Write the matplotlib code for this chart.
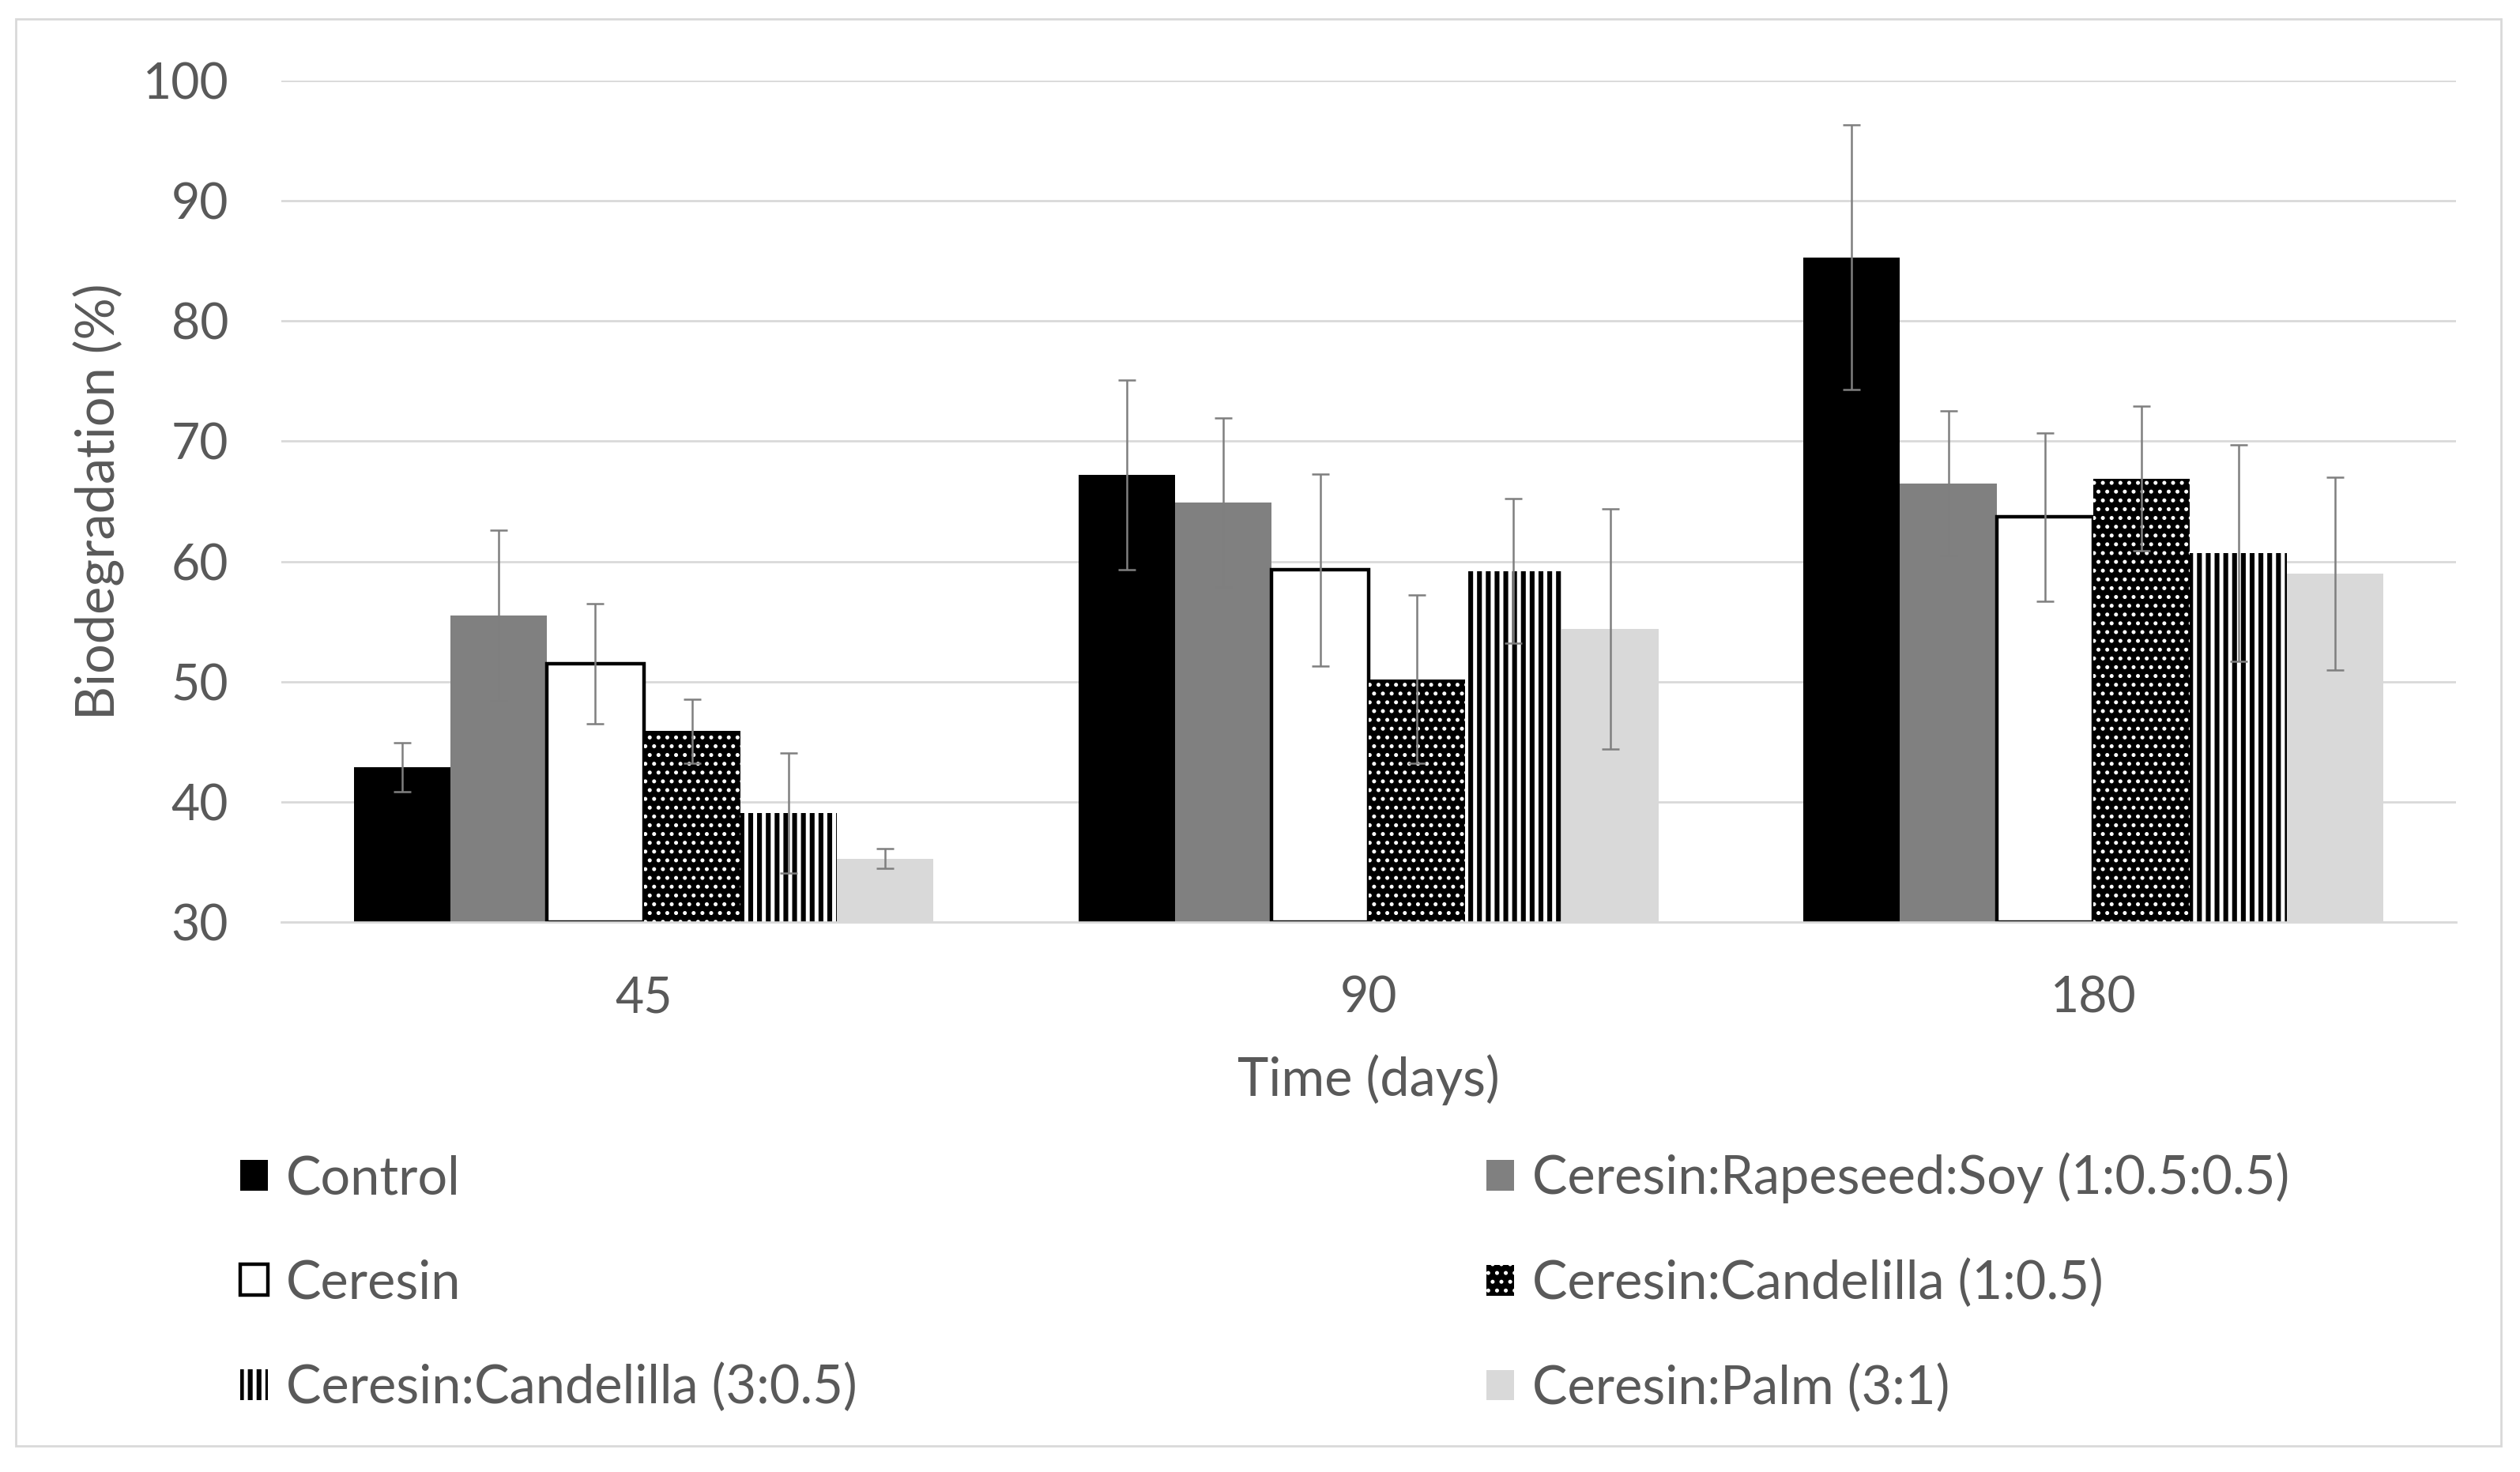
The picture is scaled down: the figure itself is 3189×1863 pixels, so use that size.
import numpy as np
import matplotlib
matplotlib.use("Agg")
import matplotlib.pyplot as plt
from matplotlib.patches import Patch, Rectangle

plt.rcParams['font.family'] = ['Lato', 'DejaVu Sans']

days = ["45", "90", "180"]
series = ["Control", "Ceresin:Rapeseed:Soy (1:0.5:0.5)", "Ceresin",
          "Ceresin:Candelilla (1:0.5)", "Ceresin:Candelilla (3:0.5)",
          "Ceresin:Palm (3:1)"]

control = [42.9, 67.2, 85.3]
rapeseed_soy = [55.5, 64.9, 66.5]
ceresin = [51.5, 59.3, 63.7]
candelilla_1 = [45.9, 50.2, 66.9]
candelilla_3 = [39.1, 59.2, 60.7]
palm = [35.3, 54.4, 59.0]

control_err = [2.05, 7.9, 11.0]
rapeseed_soy_err = [7.1, 7.0, 6.0]
ceresin_err = [5.0, 8.0, 7.0]
candelilla_1_err = [2.65, 7.0, 6.0]
candelilla_3_err = [5.0, 6.0, 9.0]
palm_err = [0.8, 10.0, 8.0]

values = [control, rapeseed_soy, ceresin, candelilla_1, candelilla_3, palm]
errors = [control_err, rapeseed_soy_err, ceresin_err, candelilla_1_err,
          candelilla_3_err, palm_err]

# face, edge, hatch, linewidth, hatch linewidth
styles = [
    ("black", "black", None, 0, 1.0),
    ("#808080", "#808080", None, 0, 1.0),
    ("white", "black", None, 1.6, 1.0),
    ("black", "white", "...", 0, 1.0),
    ("white", "black", "|||", 0, 2.2),
    ("#d9d9d9", "#d9d9d9", None, 0, 1.0),
]

txt = "#595959"
fig = plt.figure(figsize=(15.945, 9.315), dpi=200)
ax = fig.add_axes([0.1116, 0.3734, 0.8629, 0.572])

x = np.arange(len(days))
w = 0.8 / len(series)
handles = []
for i, (name, vals, errs) in enumerate(zip(series, values, errors)):
    fc, ec, hatch, lw, hlw = styles[i]
    pos = x - 0.4 + w * (i + 0.5)
    with plt.rc_context({'hatch.linewidth': hlw, 'hatch.color': ec}):
        ax.bar(pos, np.array(vals) - 30, w, bottom=30, color=fc, edgecolor=ec,
               hatch=hatch, linewidth=lw, zorder=2)
        h = Patch(facecolor=fc, edgecolor=ec, hatch=hatch,
                  linewidth=lw, label=name)
    handles.append(h)
    ax.errorbar(pos, vals, yerr=errs, fmt="none", ecolor="#7f7f7f",
                elinewidth=0.9, capsize=4, capthick=0.9, zorder=3)

ax.set_xlim(-0.5, 2.5)
ax.set_ylim(30, 100)
ax.set_yticks(np.arange(30, 101, 10))
ax.set_xticks(x)
ax.set_xticklabels(days)
ax.grid(axis="y", color="#d9d9d9", linewidth=1.0, zorder=0)
ax.set_axisbelow(True)
for s in ["top", "right", "left"]:
    ax.spines[s].set_visible(False)
ax.spines["bottom"].set_color("#d9d9d9")
ax.spines["bottom"].set_linewidth(1.0)
ax.tick_params(axis="both", length=0, labelsize=22.5, colors=txt)
ax.tick_params(axis="y", pad=24)
ax.tick_params(axis="x", pad=24)

ax.set_ylabel("Biodegradation (%)", fontsize=24, color=txt)
ax.yaxis.set_label_coords(-0.072, 0.5)
ax.set_xlabel("Time (days)", fontsize=24, color=txt)
ax.xaxis.set_label_coords(0.5, -0.157)

order = [0, 2, 4, 1, 3, 5]
leg = fig.legend([handles[k] for k in order], [series[k] for k in order],
                 ncol=2, loc="upper left", bbox_to_anchor=(0.0953, 0.2172),
                 frameon=False, fontsize=24, labelcolor=txt,
                 handlelength=0.52, handleheight=0.52, handletextpad=0.35,
                 labelspacing=1.05, columnspacing=11.95, borderpad=0,
                 borderaxespad=0)

# thicker stripes only on the striped legend swatch
striped = leg.legend_handles[2]
if hasattr(striped, "set_hatch_linewidth"):
    striped.set_hatch_linewidth(2.2)

fig.patches.append(Rectangle((0.0064, 0.0175), 0.986, 0.9695,
                             transform=fig.transFigure, fill=False,
                             edgecolor="#d9d9d9", linewidth=1.0))

fig.savefig("out.png", dpi=200)
